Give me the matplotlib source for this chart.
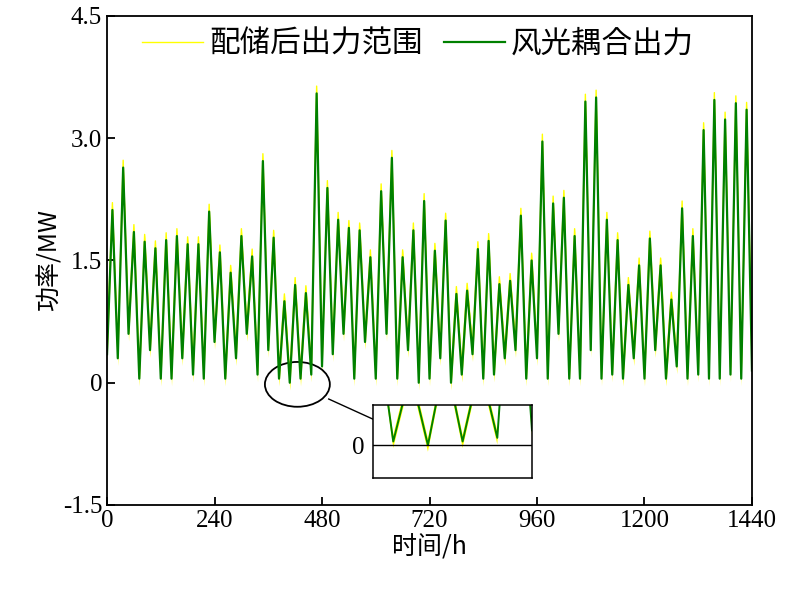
import numpy as np
import matplotlib
matplotlib.use("Agg")
import matplotlib.pyplot as plt
from matplotlib.patches import Ellipse
from matplotlib import font_manager

# daily peak values (one per day, 60 days)
peaks = [2.12, 2.64, 1.85, 1.73, 1.65, 1.75, 1.80, 1.70, 1.70, 2.10,
         1.60, 1.35, 1.80, 1.55, 2.72, 1.78, 1.00, 1.20, 1.10, 3.55,
         2.39, 2.00, 1.90, 1.87, 1.54, 2.35, 2.76, 1.54, 1.87, 2.23,
         1.62, 1.99, 1.09, 1.13, 1.64, 1.74, 1.21, 1.25, 2.05, 1.50,
         2.96, 2.20, 2.27, 1.80, 3.45, 3.50, 2.00, 1.75, 1.20, 1.44,
         1.77, 1.44, 1.02, 2.14, 1.80, 3.10, 3.47, 3.23, 3.43, 3.35]
# nightly trough values (61)
troughs = [0.35, 0.30, 0.60, 0.05, 0.40, 0.05, 0.05, 0.30, 0.10, 0.05,
           0.50, 0.05, 0.30, 0.60, 0.10, 0.40, 0.05, 0.00, 0.05, 0.10,
           0.20, 0.35, 0.60, 0.05, 0.50, 0.05, 0.60, 0.05, 0.40, 0.00,
           0.05, 0.30, 0.00, 0.10, 0.35, 0.05, 0.10, 0.30, 0.40, 0.05,
           0.30, 0.05, 0.60, 0.05, 0.05, 0.40, 0.05, 0.10, 0.05, 0.30,
           0.05, 0.40, 0.05, 0.20, 0.05, 0.10, 0.05, 0.05, 0.10, 0.05, 0.15]
storage_margin = 0.09  # half width of the output range after storage

hours = np.arange(0, 1441, 12)
power = np.empty(len(hours))
power[0::2] = troughs
power[1::2] = peaks
upper = power + storage_margin
lower = power - storage_margin

serif = "Liberation Serif"
names = {f.name for f in font_manager.fontManager.ttflist}
cjk = next((n for n in ["Noto Sans CJK SC", "Noto Sans CJK JP", "Noto Sans CJK TC",
                        "Noto Sans CJK KR"] if n in names), "DejaVu Sans")
plt.rcParams["font.family"] = [serif, cjk]

fig = plt.figure(figsize=(7.87, 5.92), dpi=100)
ax = fig.add_axes([0.136, 0.147, 0.8195, 0.826])

ax.fill_between(hours, lower, upper, color="#ffff00", lw=0)
ax.plot(hours, upper, color="#ffff00", lw=1.0, label="配储后出力范围")
ax.plot(hours, power, color="#008000", lw=1.6, label="风光耦合出力")

ax.set_xlim(0, 1440)
ax.set_ylim(-1.5, 4.5)
ax.set_xticks([0, 240, 480, 720, 960, 1200, 1440])
ax.set_yticks([-1.5, 0, 1.5, 3.0, 4.5])
ax.set_yticklabels(["-1.5", "0", "1.5", "3.0", "4.5"])
ax.tick_params(direction="in", length=6, width=1.3, labelsize=18)
for s in ax.spines.values():
    s.set_linewidth(1.3)
ax.set_xlabel("时间/h", fontsize=18, family=cjk, labelpad=2)
ax.set_ylabel("功率/MW", fontsize=18, family=cjk, labelpad=0)
ax.legend(loc="upper left", bbox_to_anchor=(0.035, 1.0), ncol=2, frameon=False,
          prop={"family": cjk, "size": 22}, handlelength=2.0,
          columnspacing=0.7, borderaxespad=0.0, handletextpad=0.2)

# highlighted low-output region
ax.add_patch(Ellipse((425, -0.02), 145, 0.55, fill=False, ec="black", lw=1.3))
ax.plot([495, 595], [-0.2, -0.45], color="black", lw=1.0)

# inset
ins = fig.add_axes([373 / 787, 1 - 478 / 592, 159 / 787, 73 / 592])
ins.fill_between(hours, lower, upper, color="#ffff00", lw=0)
ins.plot(hours, power, color="#008000", lw=1.4)
ins.axhline(0, color="black", lw=1.0)
ins.set_xlim(370, 480)
ins.set_ylim(-0.45, 0.55)
ins.set_xticks([])
ins.set_yticks([0])
ins.tick_params(direction="in", length=0, labelsize=18, pad=6)
for s in ins.spines.values():
    s.set_linewidth(1.1)

fig.savefig("out.png", dpi=100)
